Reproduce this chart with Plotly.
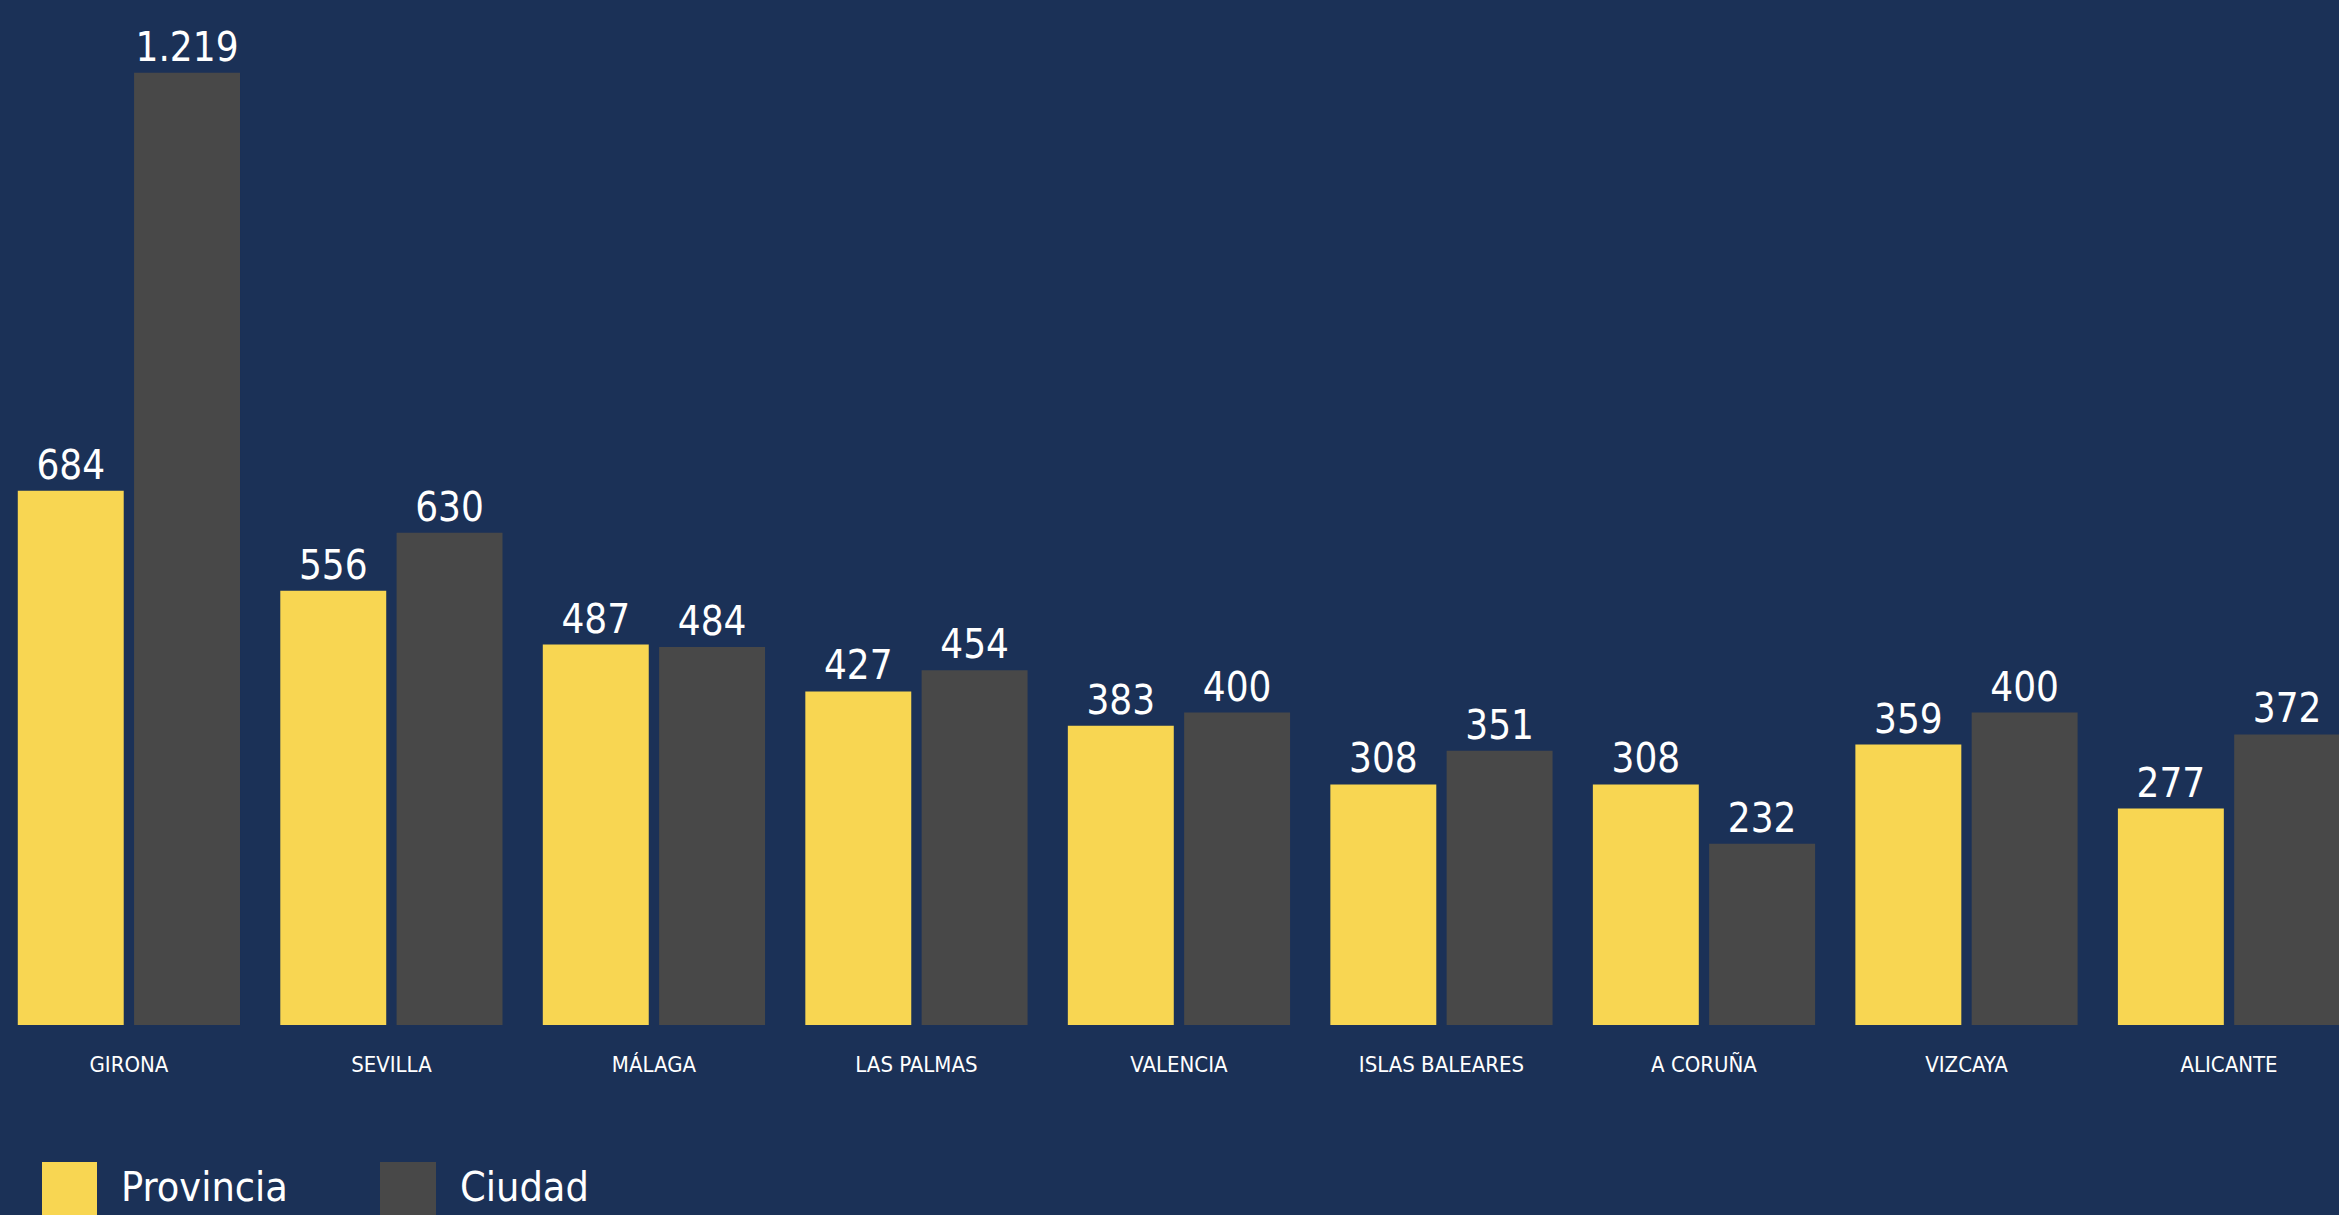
import plotly.graph_objects as go

categories = ["GIRONA", "SEVILLA", "MÁLAGA", "LAS PALMAS", "VALENCIA",
              "ISLAS BALEARES", "A CORUÑA", "VIZCAYA", "ALICANTE"]
provincia = [684, 556, 487, 427, 383, 308, 308, 359, 277]
ciudad = [1219, 630, 484, 454, 400, 351, 232, 400, 372]
series_names = ["Provincia", "Ciudad"]
series_colors = ["#f8d652", "#484848"]

BG = "#1b3157"
FONT = "Liberation Sans Narrow, DejaVu Sans Condensed, sans-serif"

W, H = 2339, 1215
base_px = 1025  # baseline pixel row

fig = go.Figure()
for name, vals, col in zip(series_names, [provincia, ciudad], series_colors):
    fig.add_trace(go.Bar(
        x=categories, y=vals, name=name,
        marker=dict(color=col, line=dict(width=0)),
        texttemplate="%{y:,}", textposition="outside",
        textfont=dict(family=FONT, size=40, color="white"),
        cliponaxis=False, showlegend=False,
    ))

# manual legend
leg_x = [(42, 97, 119), (380, 436, 458)]
for (x0, x1, tx), name, col in zip(leg_x, series_names, series_colors):
    fig.add_shape(type="rect", xref="paper", yref="paper",
                  x0=x0 / W, x1=x1 / W,
                  y0=(base_px - 1162) / base_px, y1=(base_px - 1220) / base_px,
                  fillcolor=col, line=dict(width=0), layer="above")
    fig.add_annotation(xref="paper", yref="paper", x=tx / W,
                       y=(base_px - 1187) / base_px,
                       xanchor="left", yanchor="middle", showarrow=False,
                       text=name, font=dict(family=FONT, size=41, color="white"))

fig.update_layout(
    width=W, height=H,
    margin=dict(l=0, r=0, t=0, b=H - base_px, pad=0),
    paper_bgcolor=BG, plot_bgcolor=BG,
    barmode="group", bargap=0.114, bargroupgap=0.089,
    separators=",.",
    showlegend=False,
    font=dict(family=FONT, color="white"),
)
fig.update_xaxes(range=[-0.491, 8.419], showgrid=False, zeroline=False,
                 showline=False, ticks="", ticklabelstandoff=24,
                 tickfont=dict(family=FONT, size=22, color="white"))
fig.update_yaxes(range=[0, 1312], visible=False, showgrid=False, zeroline=False)

fig.write_html(
    "out.html",
    config={"displayModeBar": False},
    post_script="document.body.style.margin='0';document.body.style.background='" + BG + "';",
)
